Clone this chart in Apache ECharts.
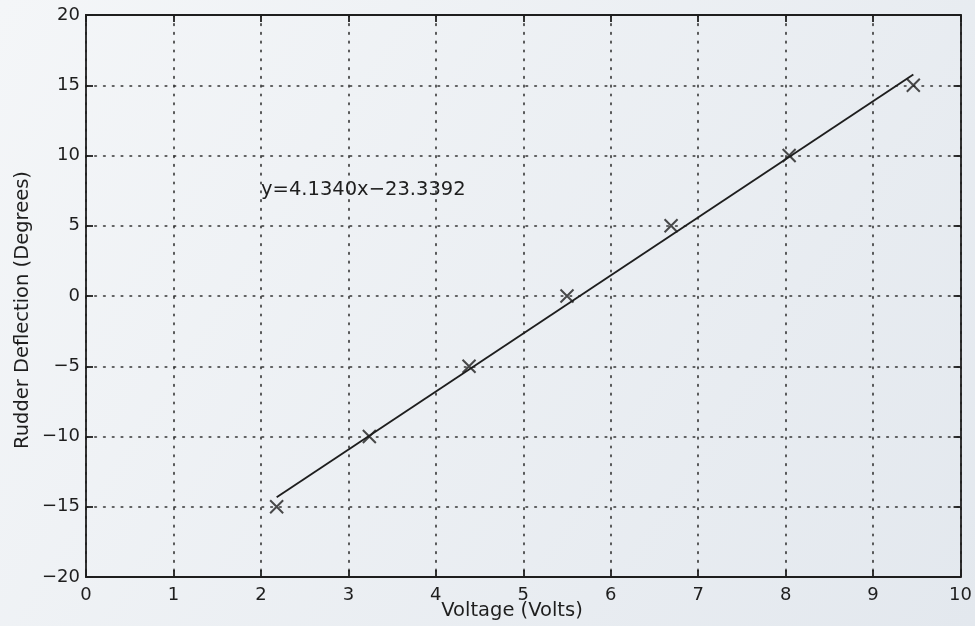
<!DOCTYPE html>
<html><head><meta charset="utf-8">
<script src="https://cdn.jsdelivr.net/npm/echarts@6/dist/echarts.min.js"></script>
<style>html,body{margin:0;padding:0;}#c{width:975px;height:626px;}</style>
</head><body><div id="c"></div>
<script>
// Data
const voltage = [2.18, 3.24, 4.38, 5.50, 6.69, 8.04, 9.46];
const deflection = [-15, -10, -5, 0, 5, 10, 15];
const fitSlope = 4.1340;
const fitIntercept = -23.3392;
const fitX = [2.18, 9.46];
const fitY = fitX.map(x => fitSlope * x + fitIntercept);
const equationText = 'y=4.1340x\u221223.3392';
const xTitle = 'Voltage (Volts)';
const yTitle = 'Rudder Deflection (Degrees)';

const chart = echarts.init(document.getElementById('c'));
const font = 'DejaVu Sans';
const ink = '#1e1e1e';
const gridLine = {show: true, lineStyle: {color: '#333', width: 1.6, type: [1.6, 7.2], cap: 'round'}};
const axisLine = {show: true, onZero: false, lineStyle: {color: ink, width: 1.8}};
const tick = {show: true, inside: true, length: 7, lineStyle: {color: ink, width: 1.8}};
const minus = v => String(v).replace('-', '\u2212');

chart.setOption({
  animation: false,
  backgroundColor: {type: 'linear', x: 0, y: 0, x2: 1, y2: 1, colorStops: [
    {offset: 0, color: '#f4f6f8'}, {offset: 1, color: '#e3e8ee'}]},
  grid: {left: 86, right: 14, top: 15, bottom: 49},
  xAxis: [
    {type: 'value', min: 0, max: 10, interval: 1, position: 'bottom',
     axisLine: axisLine, axisTick: tick, splitLine: gridLine,
     axisLabel: {color: ink, fontFamily: font, fontSize: 18, margin: 9}},
    {type: 'value', min: 0, max: 10, interval: 1, position: 'top',
     axisLine: axisLine, axisTick: tick, splitLine: {show: false}, axisLabel: {show: false}}
  ],
  yAxis: [
    {type: 'value', min: -20, max: 20, interval: 5, position: 'left',
     axisLine: axisLine, axisTick: tick, splitLine: gridLine,
     axisLabel: {color: ink, fontFamily: font, fontSize: 18, margin: 6, formatter: minus}},
    {type: 'value', min: -20, max: 20, interval: 5, position: 'right',
     axisLine: axisLine, axisTick: tick, splitLine: {show: false}, axisLabel: {show: false}}
  ],
  series: [
    {type: 'line', data: fitX.map((x, i) => [x, fitY[i]]), showSymbol: false, symbol: 'none',
     lineStyle: {color: ink, width: 1.9}, z: 3},
    {type: 'scatter', data: voltage.map((x, i) => [x, deflection[i]]),
     symbol: 'path://M0,0L10,10M10,0L0,10', symbolSize: 13,
     itemStyle: {color: 'none', borderColor: ink, borderWidth: 2}, z: 4}
  ],
  graphic: [
    {type: 'text', left: 261, top: 180, style: {text: equationText, fill: ink, font: '19.5px "DejaVu Sans"'}},
    {type: 'text', x: 512, y: 611, style: {text: xTitle, fill: ink, font: '19.5px "DejaVu Sans"', align: 'center', verticalAlign: 'middle'}},
    {type: 'text', x: 23, y: 310, rotation: Math.PI / 2, style: {text: yTitle, fill: ink, font: '19.5px "DejaVu Sans"', align: 'center', verticalAlign: 'middle'}}
  ]
});
</script></body></html>
